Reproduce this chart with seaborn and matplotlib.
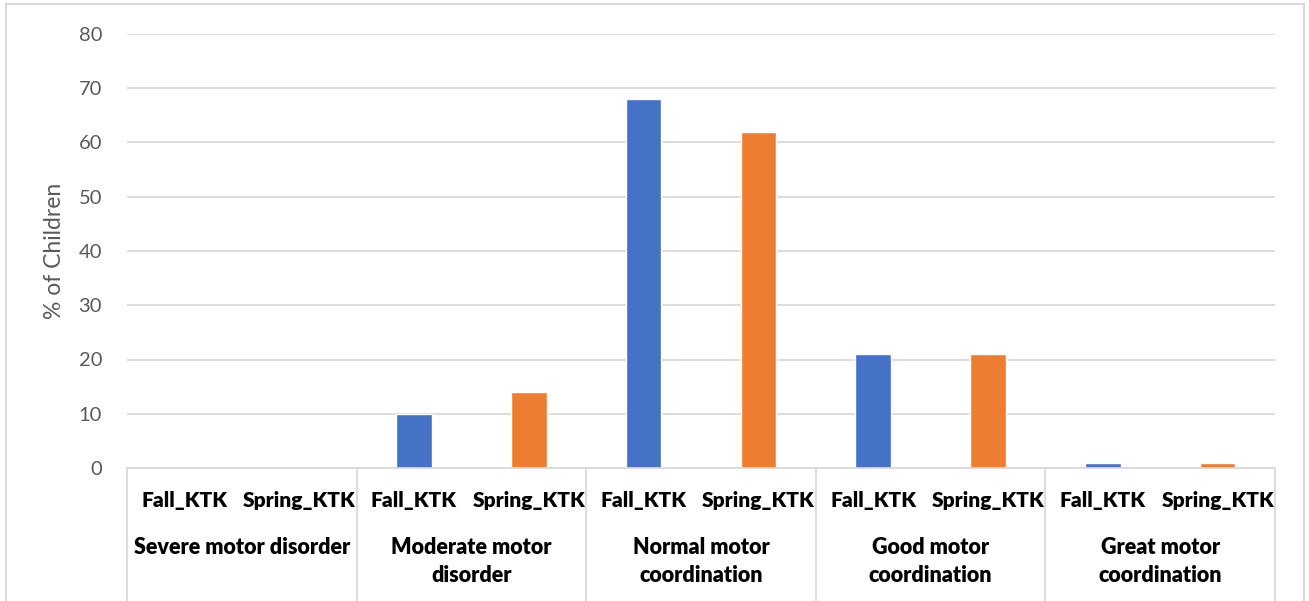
import matplotlib
matplotlib.use("Agg")
import matplotlib.pyplot as plt
import matplotlib.transforms as mtransforms
from matplotlib.patches import Rectangle
import pandas as pd
import seaborn as sns

# Motor coordination levels (KTK) for the two test sessions
groups = ["Severe motor disorder", "Moderate motor\ndisorder", "Normal motor\ncoordination",
          "Good motor\ncoordination", "Great motor\ncoordination"]
seasons = ["Fall_KTK", "Spring_KTK"]
fall_values = [0, 10, 68, 21, 1]
spring_values = [0, 14, 62, 21, 1]
y_ticks = [0, 10, 20, 30, 40, 50, 60, 70, 80]

rows = []
for g, f, s in zip(groups, fall_values, spring_values):
    rows.append({"slot": f"{g}|{seasons[0]}", "season": seasons[0], "value": f})
    rows.append({"slot": f"{g}|{seasons[1]}", "season": seasons[1], "value": s})
df = pd.DataFrame(rows)

sns.set_theme(style="white")
plt.rcParams["font.family"] = ["Lato", "DejaVu Sans"]

GRID = "#d9d9d9"
TXT = "#595959"

fig = plt.figure(figsize=(13.09, 6.01), dpi=100)
ax = fig.add_axes([127 / 1309, 1 - 468 / 601, (1275 - 127) / 1309, (468 - 34) / 601])

sns.barplot(data=df, x="slot", y="value", hue="season",
            palette={"Fall_KTK": "#4472C4", "Spring_KTK": "#ED7D31"},
            dodge=False, width=0.31, legend=False, ax=ax, saturation=1)

ax.set_xlim(-0.5, len(df) - 0.5)
ax.set_ylim(0, 80)
ax.set_yticks(y_ticks)
ax.tick_params(axis="y", length=0, pad=18, labelsize=14.5, labelcolor=TXT)
ax.set_yticklabels([str(t) for t in y_ticks])
ax.yaxis.grid(True, color=GRID, linewidth=1.3)
ax.set_axisbelow(True)
for side in ["top", "right", "left"]:
    ax.spines[side].set_visible(False)
ax.spines["bottom"].set_color(GRID)
ax.spines["bottom"].set_linewidth(1.3)
ax.set_xticks([])
ax.set_xlabel("")
ax.set_ylabel("% of Children", fontsize=16.5, color=TXT, labelpad=10)

# Two-level category axis beneath the bars
trans = mtransforms.blended_transform_factory(ax.transData, ax.transAxes)
for i, row in df.iterrows():
    ax.text(i, -0.074, row["season"], transform=trans, ha="center", va="center",
            fontsize=15, fontweight="heavy", color="black")
for gi, g in enumerate(groups):
    ax.text(2 * gi + 0.5, -0.16, g, transform=trans, ha="center", va="top",
            fontsize=15.5, fontweight="heavy", color="black", linespacing=1.4)
for xb in [-0.5, 1.5, 3.5, 5.5, 7.5, 9.5]:
    ax.plot([xb, xb], [0, -0.33], transform=trans, color=GRID, linewidth=1.3,
            clip_on=False)

# Chart area border
fig.patches.append(Rectangle((6 / 1309, -0.02), (1304 - 6) / 1309, 1 - 4 / 601 + 0.02,
                             transform=fig.transFigure, fill=False,
                             edgecolor=GRID, linewidth=1.5))

fig.savefig("out.png", dpi=100)
